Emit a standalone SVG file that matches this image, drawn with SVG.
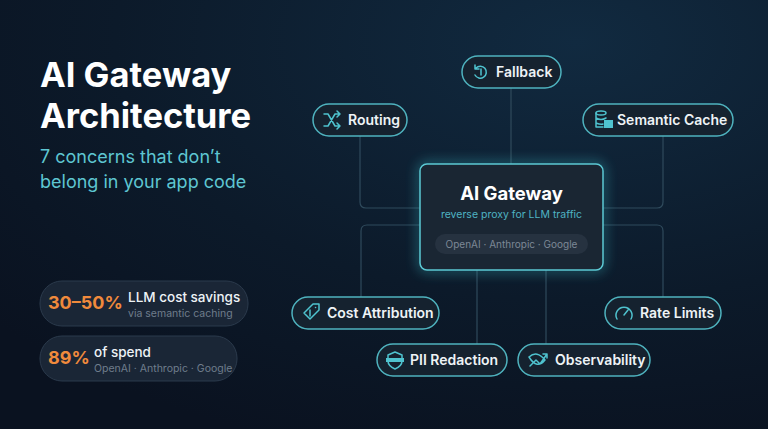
<svg xmlns="http://www.w3.org/2000/svg" width="768" height="429" viewBox="0 0 768 429">
<defs>
<radialGradient id="bg" cx="0.75" cy="0.1" r="1">
<stop offset="0" stop-color="#112a40"/><stop offset="0.6" stop-color="#0c1a2a"/><stop offset="1" stop-color="#0a1220"/>
</radialGradient>
<filter id="glow" x="-30%" y="-30%" width="160%" height="160%"><feGaussianBlur stdDeviation="6"/></filter>
<style>
.pill{fill:#15222f;stroke:#4fb3bf;stroke-width:1.5}
.lbl{font-family:Inter,"Liberation Sans",sans-serif;font-size:14px;font-weight:600;fill:#eef3f6}
.ic{fill:none;stroke:#4fc3cf;stroke-width:1.5;stroke-linecap:round;stroke-linejoin:round}
.con{fill:none;stroke:#2f4a5c;stroke-width:1.2}
.stat{fill:#1a2636;stroke:#2b3a4c;stroke-width:1}
</style>
</defs>
<rect width="768" height="429" fill="url(#bg)"/>
<text x="40" y="87" font-family="Inter,'Liberation Sans',sans-serif" font-size="34.5" font-weight="700" fill="#ffffff">AI Gateway</text>
<text x="40" y="128" font-family="Inter,'Liberation Sans',sans-serif" font-size="34.5" font-weight="700" fill="#ffffff">Architecture</text>
<text x="40" y="163" font-family="Inter,'Liberation Sans',sans-serif" font-size="18" fill="#5ec6d2">7 concerns that don’t</text>
<text x="40" y="188" font-family="Inter,'Liberation Sans',sans-serif" font-size="18" fill="#5ec6d2">belong in your app code</text>
<g id="stat1"><rect class="stat" x="40" y="281" width="208" height="45" rx="22"/>
<text x="48" y="309" font-family="Inter,'Liberation Sans',sans-serif" font-size="18" font-weight="700" fill="#f08a3c">30–50%</text>
<text x="128" y="302" font-family="Inter,'Liberation Sans',sans-serif" font-size="13.5" font-weight="500" fill="#eef3f6">LLM cost savings</text>
<text x="128" y="317" font-family="Inter,'Liberation Sans',sans-serif" font-size="10.5" fill="#6f7d8c">via semantic caching</text></g>
<g id="stat2"><rect class="stat" x="40" y="336" width="197" height="45" rx="22"/>
<text x="48" y="364" font-family="Inter,'Liberation Sans',sans-serif" font-size="18" font-weight="700" fill="#f08a3c">89%</text>
<text x="94" y="357" font-family="Inter,'Liberation Sans',sans-serif" font-size="13.5" font-weight="500" fill="#eef3f6">of spend</text>
<text x="94" y="372" font-family="Inter,'Liberation Sans',sans-serif" font-size="10.5" fill="#6f7d8c">OpenAI · Anthropic · Google</text></g>
<g id="connectors">
<path class="con" d="M360 136 V202 Q360 208 366 208 H420"/>
<path class="con" d="M663 136 V202 Q663 208 657 208 H603"/>
<path class="con" d="M511 88 V164"/>
<path class="con" d="M361 297 V231 Q361 225 367 225 H420"/>
<path class="con" d="M663 297 V231 Q663 225 657 225 H603"/>
<path class="con" d="M477 270 V344"/>
<path class="con" d="M546 270 V344"/>
</g>
<g id="gateway">
<rect x="420" y="164" width="183" height="106" rx="7" fill="none" stroke="#3fd0dc" stroke-width="4" opacity="0.6" filter="url(#glow)"/>
<rect x="420" y="164" width="183" height="106" rx="7" fill="#1a2633" stroke="#5cc9d4" stroke-width="1.5"/>
<text x="511.5" y="200" text-anchor="middle" font-family="Inter,'Liberation Sans',sans-serif" font-size="18.5" font-weight="700" fill="#fff">AI Gateway</text>
<text x="511.5" y="218" text-anchor="middle" font-family="Inter,'Liberation Sans',sans-serif" font-size="10.5" fill="#4fb3c3">reverse proxy for LLM traffic</text>
<rect x="435" y="234" width="153" height="20" rx="10" fill="#263240"/>
<text x="511.5" y="248" text-anchor="middle" font-family="Inter,'Liberation Sans',sans-serif" font-size="10" fill="#7d8896">OpenAI · Anthropic · Google</text>
</g>
<g id="fallback"><rect class="pill" x="462" y="56" width="99" height="32" rx="16"/>
<path class="ic" d="M476 68 A6 6 0 1 1 475 75 M475 65 V69 H479 M481 69 V75"/>
<text class="lbl" x="496" y="77">Fallback</text></g>
<g id="routing"><rect class="pill" x="313" y="104" width="94" height="32" rx="16"/>
<path class="ic" d="M324 114 H328 L335 126 H340 M324 126 H328 L335 114 H340 M337 111 L340 114 L337 117 M337 123 L340 126 L337 129"/>
<text class="lbl" x="348" y="125">Routing</text></g>
<g id="cache"><rect class="pill" x="583" y="104" width="150" height="32" rx="16"/>
<ellipse class="ic" cx="601" cy="113" rx="5" ry="2"/><path class="ic" d="M596 113 V127 H603 M596 118 Q601 121 606 118 M596 123 Q601 125 603 124"/>
<rect x="604" y="120" width="9" height="8" fill="#4fc3cf"/>
<text class="lbl" x="617" y="125">Semantic Cache</text></g>
<g id="cost"><rect class="pill" x="292" y="297" width="147" height="32" rx="16"/>
<path class="ic" d="M304 313 L313 304 H319 V310 L310 319 Z M315.5 307.5 h0.1 M310 310 v6"/>
<text class="lbl" x="327" y="318">Cost Attribution</text></g>
<g id="rate"><rect class="pill" x="605" y="297" width="116" height="32" rx="16"/>
<path class="ic" d="M617 319 A8 8 0 1 1 631 319 M624 315 L628 310"/>
<text class="lbl" x="640" y="318">Rate Limits</text></g>
<g id="pii"><rect class="pill" x="377" y="344" width="130" height="32" rx="16"/>
<path class="ic" d="M395 352 L402 355 V361 Q402 366 395 369 Q388 366 388 361 V355 Z"/>
<rect x="386" y="358" width="18" height="4" fill="#4fc3cf"/>
<text class="lbl" x="410" y="365">PII Redaction</text></g>
<g id="obs"><rect class="pill" x="518" y="344" width="132" height="32" rx="16"/>
<path class="ic" d="M530 366 L536 360 L540 364 L547 354 M543 354 H547 V358 M529 357 Q537 350 545 360 Q537 370 529 357"/>
<text class="lbl" x="555" y="365">Observability</text></g>
</svg>
